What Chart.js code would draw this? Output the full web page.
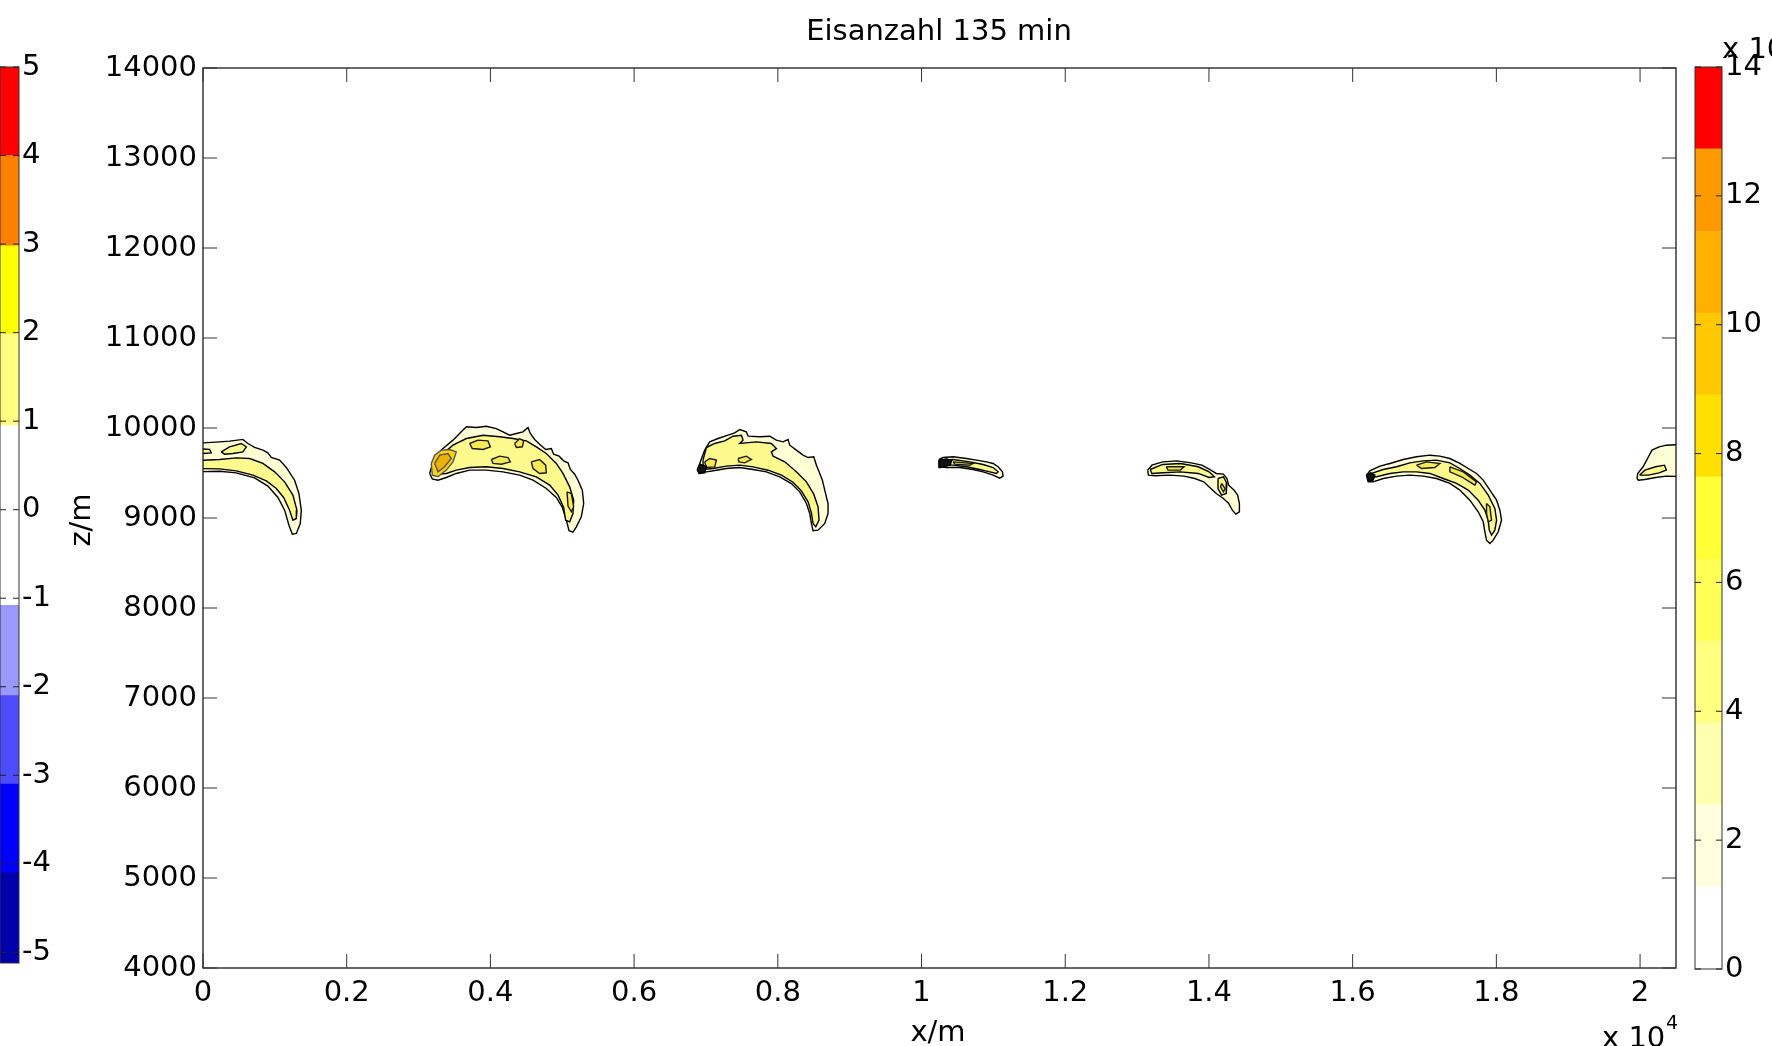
<!DOCTYPE html>
<html>
<head>
<meta charset="utf-8">
<script src="https://cdn.jsdelivr.net/npm/chart.js@4.4.0/dist/chart.umd.min.js"></script>
<style>
  html, body { margin: 0; padding: 0; background: #fff; overflow: hidden; }
  #wrap { position: relative; width: 1772px; height: 1046px; }
  canvas { position: absolute; top: 0; }
</style>
</head>
<body>
<div id="wrap">
  <canvas id="main" width="1772" height="1046" style="left:0"></canvas>
  <canvas id="cbLeft" width="70" height="1046" style="left:0"></canvas>
  <canvas id="cbRight" width="82" height="1046" style="left:1690px"></canvas>
</div>
<script>
// axis ticks
const xTicks = [0, 2000, 4000, 6000, 8000, 10000, 12000, 14000, 16000, 18000, 20000];
const xTickLabels = ['0', '0.2', '0.4', '0.6', '0.8', '1', '1.2', '1.4', '1.6', '1.8', '2'];
const yTicks = [4000, 5000, 6000, 7000, 8000, 9000, 10000, 11000, 12000, 13000, 14000];
const yTickLabels = ['4000', '5000', '6000', '7000', '8000', '9000', '10000', '11000', '12000', '13000', '14000'];

// colorbars (band edges, bottom to top)
const leftBarEdges = [-5.12, -4.1, -3.1, -2.1, -1.08, 0.95, 1.98, 2.98, 4, 5];
const leftBarTicks = [-5, -4, -3, -2, -1, 0, 1, 2, 3, 4, 5];
const rightBarEdges = [0, 1.27, 2.55, 3.82, 5.09, 6.36, 7.64, 8.91, 10.18, 11.45, 12.73, 14];
const rightBarTicks = [0, 2, 4, 6, 8, 10, 12, 14];

// contour outlines, [x (m), z (m)]
const blob1Outer = [[-150,9828],[185,9843],[370,9854],[555,9873],[625,9828],[718,9784],[834,9754],[903,9724],[951,9673],[1066,9643],[1159,9562],[1275,9420],[1335,9273],[1368,9087],[1354,8939],[1299,8828],[1243,8820],[1196,8920],[1136,9087],[1043,9228],[903,9354],[718,9446],[463,9502],[231,9520],[-150,9513]];
const blob1Inner = [[-150,9635],[231,9650],[463,9668],[649,9661],[834,9606],[997,9513],[1136,9402],[1251,9254],[1307,9087],[1299,8995],[1251,8976],[1205,9087],[1122,9228],[1020,9328],[881,9413],[695,9476],[463,9524],[231,9546],[-150,9550]];
const blob1PatchA = [[254,9735],[370,9790],[533,9828],[603,9790],[555,9735],[416,9717],[301,9709]];
const blob1PatchB = [[-150,9773],[92,9762],[115,9724],[-150,9709]];

const blob2Outer = [[3154,9495],[3224,9680],[3340,9772],[3479,9865],[3595,9957],[3665,10013],[3804,10006],[3943,10020],[4082,9994],[4175,9957],[4268,9920],[4361,9939],[4453,9957],[4523,10006],[4555,9939],[4616,9872],[4685,9820],[4769,9761],[4848,9772],[4880,9709],[4955,9687],[5019,9635],[5080,9613],[5112,9539],[5173,9487],[5219,9420],[5279,9309],[5298,9161],[5265,9013],[5196,8902],[5149,8843],[5094,8858],[5057,8976],[5001,9117],[4917,9228],[4778,9328],[4593,9420],[4407,9476],[4175,9513],[3943,9532],[3711,9532],[3525,9495],[3386,9450],[3270,9420],[3191,9435]];
const blob2Inner = [[3247,9587],[3340,9717],[3479,9809],[3665,9883],[3897,9920],[4129,9902],[4314,9883],[4500,9857],[4639,9791],[4778,9717],[4917,9606],[5010,9495],[5103,9346],[5159,9198],[5149,9050],[5103,8958],[5047,8976],[5019,9117],[4941,9254],[4825,9365],[4639,9457],[4407,9513],[4175,9550],[3943,9569],[3711,9561],[3525,9532],[3386,9495],[3270,9487]];
const blob2PatchA = [[3711,9828],[3827,9865],[3966,9857],[3999,9791],[3897,9761],[3748,9772]];
const blob2PatchB = [[4013,9650],[4129,9687],[4245,9672],[4277,9624],[4152,9598],[4036,9606]];
const blob2PatchC = [[4337,9828],[4407,9883],[4463,9857],[4444,9791],[4361,9783]];
const blob2PatchD = [[4569,9624],[4685,9650],[4769,9587],[4778,9502],[4685,9495],[4593,9550]];
const blob2PatchE = [[5066,9291],[5126,9272],[5159,9124],[5126,9069],[5080,9132]];
const blob2Core = [[3177,9606],[3224,9698],[3317,9754],[3433,9761],[3525,9735],[3479,9624],[3386,9532],[3270,9458],[3191,9476]];
const blob2CoreInner = [[3224,9606],[3293,9698],[3409,9717],[3456,9661],[3363,9569],[3270,9513]];

const blob3Outer = [[6890,9531],[6913,9605],[6982,9754],[7052,9846],[7168,9883],[7307,9920],[7400,9946],[7470,9983],[7562,9957],[7586,9909],[7748,9902],[7887,9909],[7980,9865],[8073,9846],[8142,9872],[8166,9809],[8258,9754],[8351,9698],[8421,9672],[8500,9680],[8537,9587],[8574,9513],[8620,9420],[8653,9309],[8699,9161],[8699,9050],[8653,8939],[8560,8865],[8490,8858],[8467,8939],[8444,9050],[8398,9161],[8305,9291],[8189,9383],[8026,9457],[7841,9513],[7655,9539],[7470,9561],[7284,9550],[7145,9531],[7006,9513],[6913,9502]];
const blob3Inner = [[6959,9643],[7006,9783],[7122,9828],[7261,9857],[7377,9909],[7493,9920],[7516,9865],[7470,9828],[7702,9846],[7910,9828],[7980,9772],[7910,9735],[7934,9687],[8096,9624],[8258,9513],[8398,9402],[8500,9265],[8560,9124],[8574,8976],[8528,8902],[8490,8939],[8467,9058],[8421,9180],[8328,9302],[8212,9398],[8050,9476],[7864,9531],[7655,9568],[7470,9587],[7284,9576],[7098,9550],[6959,9539]];
const blob3PatchA = [[6982,9624],[7052,9661],[7145,9643],[7122,9568],[7006,9561]];
const blob3PatchB = [[7446,9661],[7562,9687],[7632,9650],[7539,9613],[7460,9624]];
const blob3Tip = [[6876,9539],[6913,9598],[7006,9576],[6982,9502],[6903,9494]];

const blob4Outer = [[10244,9650],[10300,9672],[10439,9680],[10625,9661],[10764,9643],[10903,9624],[10996,9606],[11066,9569],[11126,9513],[11135,9465],[11089,9443],[10996,9476],[10857,9513],[10718,9539],[10532,9561],[10346,9561],[10254,9569]];
const blob4Inner = [[10277,9643],[10439,9650],[10671,9624],[10857,9594],[10996,9561],[11066,9513],[11042,9494],[10950,9513],[10810,9539],[10625,9569],[10439,9587],[10277,9587]];
const blob4Streak = [[10439,9624],[10718,9606],[10671,9587],[10462,9598]];
const blob4Tip = [[10244,9643],[10350,9657],[10420,9640],[10400,9590],[10300,9565],[10254,9561]];

const blob5Outer = [[13147,9532],[13206,9587],[13356,9624],[13554,9635],[13753,9613],[13902,9587],[14027,9532],[14101,9495],[14201,9487],[14250,9439],[14275,9365],[14350,9309],[14399,9254],[14424,9161],[14424,9069],[14375,9043],[14325,9087],[14275,9161],[14201,9217],[14101,9272],[14027,9328],[13927,9402],[13803,9439],[13654,9465],[13455,9476],[13256,9469],[13157,9476]];
const blob5Inner = [[13182,9539],[13356,9595],[13604,9606],[13852,9569],[14002,9513],[14076,9458],[14002,9450],[13852,9495],[13604,9513],[13356,9502],[13206,9495]];
const blob5Patch = [[14126,9439],[14201,9458],[14250,9383],[14240,9272],[14176,9254],[14126,9328]];
const blob5CoreA = [[13405,9569],[13654,9569],[13604,9532],[13430,9532]];
const blob5CoreB = [[14176,9383],[14225,9328],[14201,9291],[14161,9346]];

const blob6Outer = [[16193,9476],[16239,9524],[16379,9576],[16518,9606],[16703,9650],[16889,9680],[17075,9698],[17214,9687],[17353,9661],[17492,9606],[17608,9550],[17724,9495],[17817,9421],[17910,9310],[18003,9198],[18049,9087],[18072,8976],[18026,8847],[17956,8754],[17910,8717],[17863,8754],[17840,8847],[17817,8958],[17747,9069],[17631,9198],[17492,9310],[17353,9384],[17167,9439],[16982,9465],[16796,9476],[16611,9465],[16425,9439],[16286,9402],[16216,9402]];
const blob6Inner = [[16263,9495],[16425,9539],[16611,9569],[16796,9613],[16982,9635],[17167,9643],[17353,9613],[17492,9550],[17631,9476],[17770,9384],[17887,9254],[17979,9106],[18003,8976],[17979,8865],[17933,8810],[17901,8865],[17887,8976],[17840,9087],[17747,9198],[17608,9310],[17446,9384],[17260,9439],[17075,9495],[16889,9513],[16703,9513],[16518,9495],[16332,9458],[16263,9450]];
const blob6PatchA = [[16889,9587],[17029,9624],[17214,9606],[17144,9561],[16959,9550]];
const blob6PatchB = [[17353,9569],[17539,9513],[17724,9402],[17701,9365],[17515,9458],[17353,9513]];
const blob6PatchC = [[17863,9161],[17910,9124],[17933,8976],[17887,8958],[17863,9050]];
const blob6Tip = [[16193,9476],[16249,9502],[16309,9476],[16286,9421],[16216,9413]];

const blob7Outer = [[19957,9439],[19967,9495],[20042,9569],[20116,9680],[20166,9754],[20265,9791],[20365,9809],[20700,9820],[20700,9458],[20365,9465],[20216,9450],[20067,9428],[19977,9420]];
const blob7Inner = [[19992,9476],[20067,9532],[20216,9569],[20340,9587],[20365,9532],[20265,9502],[20116,9476]];

// contour level of each outline
const contours = [
  [0, blob1Outer], [1, blob1Inner], [1, blob1PatchA], [1, blob1PatchB],
  [0, blob2Outer], [1, blob2Inner], [2, blob2PatchA], [2, blob2PatchB], [2, blob2PatchC], [2, blob2PatchD], [2, blob2PatchE], [3, blob2Core], [4, blob2CoreInner],
  [0, blob3Outer], [1, blob3Inner], [2, blob3PatchA], [2, blob3PatchB], [5, blob3Tip],
  [0, blob4Outer], [1, blob4Inner], [2, blob4Streak], [5, blob4Tip],
  [0, blob5Outer], [1, blob5Inner], [1, blob5Patch], [2, blob5CoreA], [2, blob5CoreB],
  [0, blob6Outer], [1, blob6Inner], [2, blob6PatchA], [2, blob6PatchB], [2, blob6PatchC], [5, blob6Tip],
  [0, blob7Outer], [1, blob7Inner]
];

const levelFill = ['#ffffd6', '#fcfa8c', '#f7ea55', '#ffcf1a', '#ebb000', '#111111'];
const levelLine = ['#000000', '#000000', '#1a1a1a', '#555555', '#555555', '#000000'];
const leftBarColors = ['#0000aa', '#0000ff', '#4d4dff', '#9999ff', '#ffffff', '#ffff80', '#ffff00', '#ff8000', '#ff0000'];
const rightBarColors = ['#ffffff', '#ffffdd', '#ffffb0', '#ffff80', '#ffff55', '#ffff33', '#ffe000', '#ffc800', '#ffb000', '#ff9900', '#ff0000'];

const FONT = 'DejaVu Sans';
Chart.defaults.font.family = FONT;
Chart.defaults.font.size = 29;
Chart.defaults.color = '#000';

const frame = {
  id: 'frame',
  afterDraw(chart, args, opts) {
    const { ctx, chartArea: a, scales } = chart;
    ctx.save();
    ctx.strokeStyle = opts.color;
    ctx.lineWidth = opts.width;
    ctx.strokeRect(a.left, a.top, a.right - a.left, a.bottom - a.top);
    ctx.lineWidth = 1;
    ctx.beginPath();
    if (opts.xTicks) {
      scales.x.ticks.forEach(t => {
        const p = scales.x.getPixelForValue(t.value);
        ctx.moveTo(p, a.bottom); ctx.lineTo(p, a.bottom - opts.tick);
        ctx.moveTo(p, a.top); ctx.lineTo(p, a.top + opts.tick);
      });
    }
    scales.y.ticks.forEach(t => {
      const p = scales.y.getPixelForValue(t.value);
      ctx.moveTo(a.left, p); ctx.lineTo(a.left + opts.tick, p);
      ctx.moveTo(a.right, p); ctx.lineTo(a.right - opts.tick, p);
    });
    ctx.strokeStyle = opts.tickColor;
    ctx.stroke();
    ctx.fillStyle = '#000';
    (opts.texts || []).forEach(t => {
      ctx.save();
      ctx.font = t.size + 'px "' + FONT + '"';
      ctx.textAlign = t.align || 'center';
      ctx.textBaseline = t.baseline || 'alphabetic';
      ctx.translate(t.x, t.y);
      if (t.rotate) ctx.rotate(t.rotate);
      ctx.fillText(t.text, 0, 0);
      ctx.restore();
    });
    ctx.restore();
  }
};

new Chart(document.getElementById('main'), {
  type: 'line',
  data: {
    datasets: contours.map(([lvl, pts]) => ({
      data: pts.concat([pts[0]]).map(([x, y]) => ({ x, y })),
      fill: 'shape',
      backgroundColor: levelFill[lvl],
      borderColor: levelLine[lvl],
      borderWidth: 1.4,
      pointRadius: 0,
      tension: 0,
      order: 10 - lvl
    }))
  },
  options: {
    responsive: false,
    animation: false,
    layout: { padding: { left: 0, right: 96, top: 68, bottom: 0 } },
    plugins: {
      legend: { display: false },
      tooltip: { enabled: false },
      frame: {
        color: '#1a1a1a', width: 1.3, tick: 14, tickColor: '#333', xTicks: true,
        texts: [
          { text: 'Eisanzahl 135 min', x: 939, y: 40, size: 29 },
          { text: 'x/m', x: 938, y: 1041, size: 29 },
          { text: 'z/m', x: 82, y: 520, size: 29, rotate: -Math.PI / 2, baseline: 'middle' },
          { text: 'x 10', x: 1602, y: 1047, size: 29, align: 'left' },
          { text: '4', x: 1666, y: 1029, size: 19, align: 'left' }
        ]
      }
    },
    scales: {
      x: {
        type: 'linear', min: 0, max: 20500,
        grid: { display: false, drawTicks: false },
        border: { display: false },
        afterBuildTicks: s => { s.ticks = xTicks.map(v => ({ value: v })); },
        afterFit: s => { s.height = 78; },
        ticks: { autoSkip: false, maxRotation: 0, padding: 8, callback: (v, i) => xTickLabels[i] }
      },
      y: {
        type: 'linear', min: 4000, max: 14000,
        grid: { display: false, drawTicks: false },
        border: { display: false },
        afterBuildTicks: s => { s.ticks = yTicks.map(v => ({ value: v })); },
        afterFit: s => { s.width = 203; },
        ticks: { autoSkip: false, padding: 6, callback: (v, i) => yTickLabels[i] }
      }
    }
  },
  plugins: [frame]
});

function colorbar(id, edges, colors, ticks, min, max, pad, axisWidth, extraTexts) {
  new Chart(document.getElementById(id), {
    type: 'bar',
    data: {
      labels: [''],
      datasets: colors.map((c, i) => ({
        data: [[edges[i], edges[i + 1]]],
        backgroundColor: c,
        borderWidth: 0,
        grouped: false,
        barPercentage: 1,
        categoryPercentage: 1
      }))
    },
    options: {
      responsive: false,
      animation: false,
      layout: { padding: pad },
      plugins: {
        legend: { display: false },
        tooltip: { enabled: false },
        frame: { color: '#333', width: 1, tick: 6, tickColor: '#222', xTicks: false, texts: extraTexts }
      },
      scales: {
        x: { display: false },
        y: {
          position: 'right', min, max,
          grid: { display: false, drawTicks: false },
          border: { display: false },
          afterBuildTicks: s => { s.ticks = ticks.map(v => ({ value: v })); },
          afterFit: s => { s.width = axisWidth; },
          ticks: { autoSkip: false, padding: 3, callback: v => String(v) }
        }
      }
    },
    plugins: [frame]
  });
}

colorbar('cbLeft', leftBarEdges, leftBarColors, leftBarTicks, -5.12, 5,
  { left: 0, right: 0, top: 67, bottom: 83 }, 51, []);
colorbar('cbRight', rightBarEdges, rightBarColors, rightBarTicks, 0, 14,
  { left: 5, right: 0, top: 67, bottom: 77 }, 50,
  [{ text: 'x 10', x: 32, y: 58, size: 29, align: 'left' }, { text: '4', x: 96, y: 40, size: 19, align: 'left' }]);
</script>
</body>
</html>
